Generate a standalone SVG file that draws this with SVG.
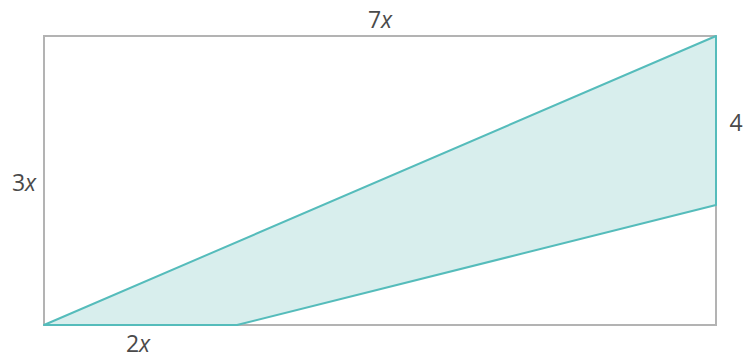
<svg xmlns="http://www.w3.org/2000/svg" width="752" height="358" viewBox="0 0 752 358">
<style>
.frame{fill:none;stroke:#b3b3b3;stroke-width:2}
.shade{fill:#d8eeed;stroke:#55bcbb;stroke-width:2;stroke-linejoin:round}
.lbl{font-family:"Open Sans",sans-serif;font-size:23px;fill:#4a4a4a}
.it{font-style:italic}
</style>
<rect width="752" height="358" fill="#ffffff"/>
<g id="frame"><rect class="frame" x="44" y="36" width="672" height="289"/></g>
<g id="shaded"><polygon class="shade" points="44,325 716,36 716,205 237,325"/></g>
<g id="labels">
<text class="lbl" x="380" y="28" text-anchor="middle">7<tspan class="it">x</tspan></text>
<text class="lbl" x="24" y="191" text-anchor="middle">3<tspan class="it">x</tspan></text>
<text class="lbl" x="736" y="131" text-anchor="middle">4</text>
<text class="lbl" x="138" y="352" text-anchor="middle">2<tspan class="it">x</tspan></text>
</g>
</svg>
